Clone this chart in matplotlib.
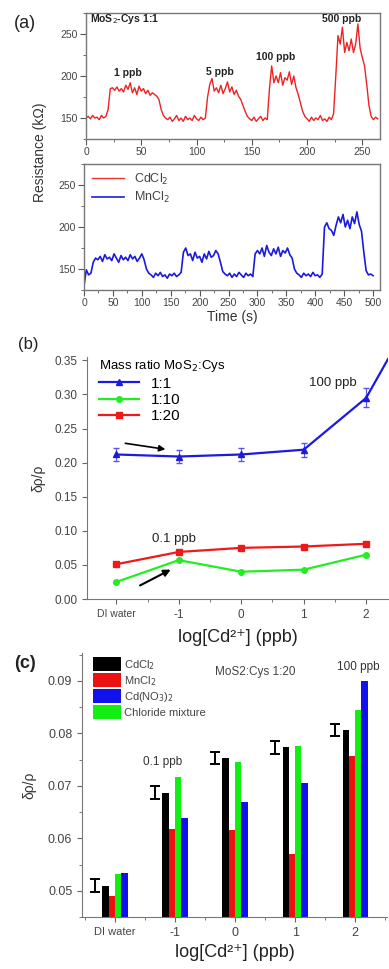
import numpy as np
import matplotlib
matplotlib.use('Agg')
from matplotlib import pyplot as plt
from matplotlib.ticker import MultipleLocator

plt.rcParams['font.family'] = ['Liberation Sans', 'DejaVu Sans']

# ---- panel (a): resistance vs time ----
# CdCl2 (MoS2-Cys 1:1), sampled every 2 s
cd_res = [150, 152, 149, 153, 150, 151, 148, 153, 150, 152,
          160, 185,
          186, 183, 187, 182, 185, 181, 189, 184, 192, 180, 186, 178, 188, 182, 185, 179, 183, 177, 180, 178, 176,
          172, 160, 153, 150,
          148, 151, 146, 149, 153, 147, 150, 146, 152, 148, 150, 147, 153, 149, 147, 151, 148, 150,
          175, 190, 197, 182,
          186, 180, 189, 179, 185, 193, 181, 187, 178, 183, 176,
          172, 165, 158, 152, 149,
          147, 151, 146, 149, 152, 147, 150, 148,
          185, 212, 192,
          200, 192, 204, 189, 198, 195, 205, 190, 200,
          186, 178, 168, 158, 152,
          149, 146, 151, 147, 150, 148, 153, 147, 149, 146, 151, 148, 155,
          200, 248, 238, 258, 228,
          240, 230, 244, 228, 238, 262, 233,
          222, 212, 190, 165, 152,
          148, 151, 149]
cd_step = 2

# MnCl2, sampled every 4 s
mn_res = [130, 149, 143, 145, 158, 163,
          161, 165, 159, 167, 162, 164, 160, 168, 163, 158, 166, 161, 164, 160, 167, 162, 165, 159, 163, 168, 161,
          150, 145,
          143, 140, 145, 142, 146, 141, 143, 139, 144, 142, 145, 141, 143, 146,
          170, 175, 166,
          168, 160, 170, 163, 165, 158, 168, 162, 171, 164, 166, 172, 168,
          158, 147, 144,
          142, 145, 140, 144, 141, 146, 143, 140, 145, 142, 144, 141,
          168, 172,
          168, 175, 165, 178, 170, 166, 174, 168, 176, 165, 172, 169, 175, 167,
          163, 150, 145,
          143, 140, 145, 142, 144, 141, 146, 142, 143, 140, 144,
          200, 205, 198, 196, 190, 202, 212,
          205, 215, 200, 208, 198, 212, 204, 218, 203,
          195, 170, 148, 143, 144, 142]
mn_step = 4

ppb_labels_a = ['1 ppb', '5 ppb', '100 ppb', '500 ppb']
ppb_pos_a = [(38, 203), (121, 205), (172, 223), (231, 268)]

# ---- panel (b): response vs concentration for mass ratios ----
conc_labels = ['DI water', '-1', '0', '1', '2']
conc_x = [-2, -1, 0, 1, 2]
r11 = [0.212, 0.209, 0.212, 0.219, 0.295]
r11_err = [0.010, 0.010, 0.010, 0.010, 0.014]
r11_tail = (2.35, 0.352)
r110 = [0.025, 0.057, 0.040, 0.043, 0.065]
r120 = [0.051, 0.069, 0.075, 0.077, 0.081]

# ---- panel (c): different salts, MoS2:Cys 1:20 ----
salts = ['CdCl$_2$', 'MnCl$_2$', 'Cd(NO$_3$)$_2$', 'Chloride mixture']
salt_colors = ['black', '#ee1111', '#1111ee', '#11ee11']
cdcl2 = [0.0510, 0.0687, 0.0753, 0.0773, 0.0806]
mncl2 = [0.0490, 0.0618, 0.0615, 0.0570, 0.0756]
cdno3 = [0.0534, 0.0639, 0.0670, 0.0706, 0.0899]
mix = [0.0532, 0.0717, 0.0745, 0.0776, 0.0845]
cd_err = [0.0012, 0.0012, 0.0012, 0.0012, 0.0012]

xlab = 'log[Cd\u00b2\u207a] (ppb)'

W, H = 389, 969
fig = plt.figure(figsize=(W / 100, H / 100), dpi=100)


def box(l, t, r, b):
    return [l / W, 1 - b / H, (r - l) / W, (b - t) / H]


def style_a(ax):
    for s in ax.spines.values():
        s.set_color('#777777')
        s.set_linewidth(1.0)
    ax.tick_params(which='both', direction='out', colors='#555555', labelsize=7.5,
                   labelcolor='#444444', pad=2)
    ax.tick_params(which='major', length=4)
    ax.tick_params(which='minor', length=2.5)
    ax.yaxis.set_major_locator(MultipleLocator(50))
    ax.yaxis.set_minor_locator(MultipleLocator(25))
    ax.set_ylim(125, 275)


# top (a)
ax1 = fig.add_axes(box(86, 13, 380, 139))
t1 = np.arange(len(cd_res)) * cd_step
ax1.plot(t1, cd_res, color='#ee2222', lw=1.0)
ax1.set_xlim(0, 266)
ax1.xaxis.set_major_locator(MultipleLocator(50))
ax1.xaxis.set_minor_locator(MultipleLocator(25))
style_a(ax1)
ax1.text(4, 268, 'MoS$_2$-Cys 1:1', fontsize=7.5, fontweight='bold', va='center', color='#222222')
for lab, (x, y) in zip(ppb_labels_a, ppb_pos_a):
    ax1.text(x, y, lab, fontsize=7.5, fontweight='bold', ha='center', va='center', color='#222222')

# bottom (a)
ax2 = fig.add_axes(box(84, 164, 380, 290))
t2 = np.arange(len(mn_res)) * mn_step
ax2.plot([], [], color='#ee3333', lw=1.0, label='CdCl$_2$')
ax2.plot(t2, mn_res, color='#1a1ae0', lw=1.2, label='MnCl$_2$')
ax2.set_xlim(0, 512)
ax2.xaxis.set_major_locator(MultipleLocator(50))
ax2.xaxis.set_minor_locator(MultipleLocator(25))
style_a(ax2)
ax2.legend(loc='upper left', frameon=False, fontsize=9, handlelength=2.6,
           labelcolor='#444444', borderaxespad=0.2, labelspacing=0.3)
ax2.set_xlabel('Time (s)', fontsize=10, color='#333333', labelpad=1)

fig.text(40 / W, 1 - 152 / H, 'Resistance (k\u03a9)', rotation=90, fontsize=10,
         color='#333333', ha='center', va='center')
fig.text(25 / W, 1 - 24 / H, '(a)', fontsize=13, ha='center', va='center', color='#222222')

# (b)
ax3 = fig.add_axes(box(87, 357, 388, 599))
ax3.errorbar(conc_x, r11, yerr=r11_err, fmt='none', ecolor='#5555ee', elinewidth=0.8, capsize=2)
ax3.plot(conc_x + [r11_tail[0]], r11 + [r11_tail[1]], color='#1a1ae0', lw=1.6, marker='^',
         ms=4.5, markevery=list(range(len(conc_x))), label='1:1')
ax3.plot(conc_x, r110, color='#22ee22', lw=1.6, marker='o', ms=4, label='1:10')
ax3.plot(conc_x, r120, color='#ee1a1a', lw=1.6, marker='s', ms=4, label='1:20')
ax3.set_xlim(-2.47, 2.35)
ax3.set_ylim(0, 0.355)
ax3.set_xticks(conc_x)
ax3.set_xticklabels(conc_labels)
ax3.xaxis.set_minor_locator(MultipleLocator(0.5))
ax3.yaxis.set_major_locator(MultipleLocator(0.05))
ax3.set_yticklabels(['%.2f' % v for v in ax3.get_yticks()])
for s in ['top', 'right']:
    ax3.spines[s].set_visible(False)
for s in ['left', 'bottom']:
    ax3.spines[s].set_color('#777777')
ax3.tick_params(which='both', direction='out', colors='#666666', labelcolor='#444444', labelsize=8.5)
ax3.tick_params(which='minor', length=2)
ax3.get_xticklabels()[0].set_fontsize(7.5)
ax3.set_ylim(0, 0.355)
leg = ax3.legend(loc='upper left', frameon=False, fontsize=11, title='Mass ratio MoS$_2$:Cys',
                 title_fontsize=9.5, handlelength=2.6, labelspacing=0.15, borderaxespad=0.0,
                 bbox_to_anchor=(0.02, 1.02))
leg._legend_box.align = 'left'
ax3.text(1.47, 0.317, '100 ppb', fontsize=9.5, ha='center', va='center', color='#222222')
ax3.text(-1.07, 0.088, '0.1 ppb', fontsize=9.5, ha='center', va='center', color='#222222')
ax3.annotate('', xy=(-1.17, 0.219), xytext=(-1.9, 0.229),
             arrowprops=dict(arrowstyle='-|>', color='black', lw=1.2, mutation_scale=9))
ax3.annotate('', xy=(-1.09, 0.045), xytext=(-1.66, 0.018),
             arrowprops=dict(arrowstyle='-|>', color='black', lw=1.5, mutation_scale=10))
ax3.set_ylabel('\u03b4\u03c1/\u03c1', fontsize=10, color='#333333', labelpad=6)
ax3.set_xlabel(xlab, fontsize=13, color='#222222', labelpad=6)
fig.text(28 / W, 1 - 345 / H, '(b)', fontsize=12, ha='center', va='center', color='#222222')

# (c)
ax4 = fig.add_axes(box(82, 653, 387, 917))
w = 0.105
xc = np.array(conc_x, dtype=float)
for vals, col, off in zip([cdcl2, mncl2, mix, cdno3],
                          ['black', '#ee1111', '#11ee11', '#1111ee'],
                          [-1.5, -0.5, 0.5, 1.5]):
    ax4.bar(xc + off * w, np.array(vals) - 0.045, bottom=0.045, width=w, color=col)
for lab, col in zip(salts, salt_colors):
    ax4.bar([0], [0], color=col, label=lab)
ax4.errorbar(xc - 0.33, cdcl2, yerr=cd_err, fmt='none', ecolor='black', elinewidth=1.4,
             capsize=3.5, capthick=1.4)
ax4.set_xlim(-2.55, 2.53)
ax4.set_ylim(0.045, 0.0953)
ax4.set_xticks(conc_x)
ax4.set_xticklabels(conc_labels)
ax4.xaxis.set_minor_locator(MultipleLocator(0.5))
ax4.yaxis.set_major_locator(MultipleLocator(0.01))
ax4.yaxis.set_minor_locator(MultipleLocator(0.005))
ax4.set_yticklabels(['%.2f' % v for v in ax4.get_yticks()])
ax4.set_ylim(0.045, 0.0953)
for s in ['top', 'right']:
    ax4.spines[s].set_visible(False)
for s in ['left', 'bottom']:
    ax4.spines[s].set_color('#777777')
ax4.tick_params(which='both', direction='out', colors='#666666', labelcolor='#444444', labelsize=9)
ax4.tick_params(which='minor', length=2)
ax4.get_xticklabels()[0].set_fontsize(8)
ax4.legend(loc='upper left', frameon=False, fontsize=8, handlelength=2.6, handleheight=1.5,
           labelspacing=0.15, borderaxespad=0.0, bbox_to_anchor=(0.02, 1.0), labelcolor='#444444',
           handletextpad=0.2)
ax4.text(0.33, 0.0917, 'MoS2:Cys 1:20', fontsize=8.5, ha='center', va='center', color='#444444')
ax4.text(2.05, 0.0926, '100 ppb', fontsize=8.5, ha='center', va='center', color='#333333')
ax4.text(-1.2, 0.0745, '0.1 ppb', fontsize=8.5, ha='center', va='center', color='#333333')
ax4.set_ylabel('\u03b4\u03c1/\u03c1', fontsize=10, color='#333333', labelpad=8)
ax4.set_xlabel(xlab, fontsize=13, color='#222222', labelpad=4)
fig.text(25 / W, 1 - 663 / H, '(c)', fontsize=13, fontweight='bold', ha='center', va='center',
         color='#222222')

fig.savefig('out.png', dpi=100)
